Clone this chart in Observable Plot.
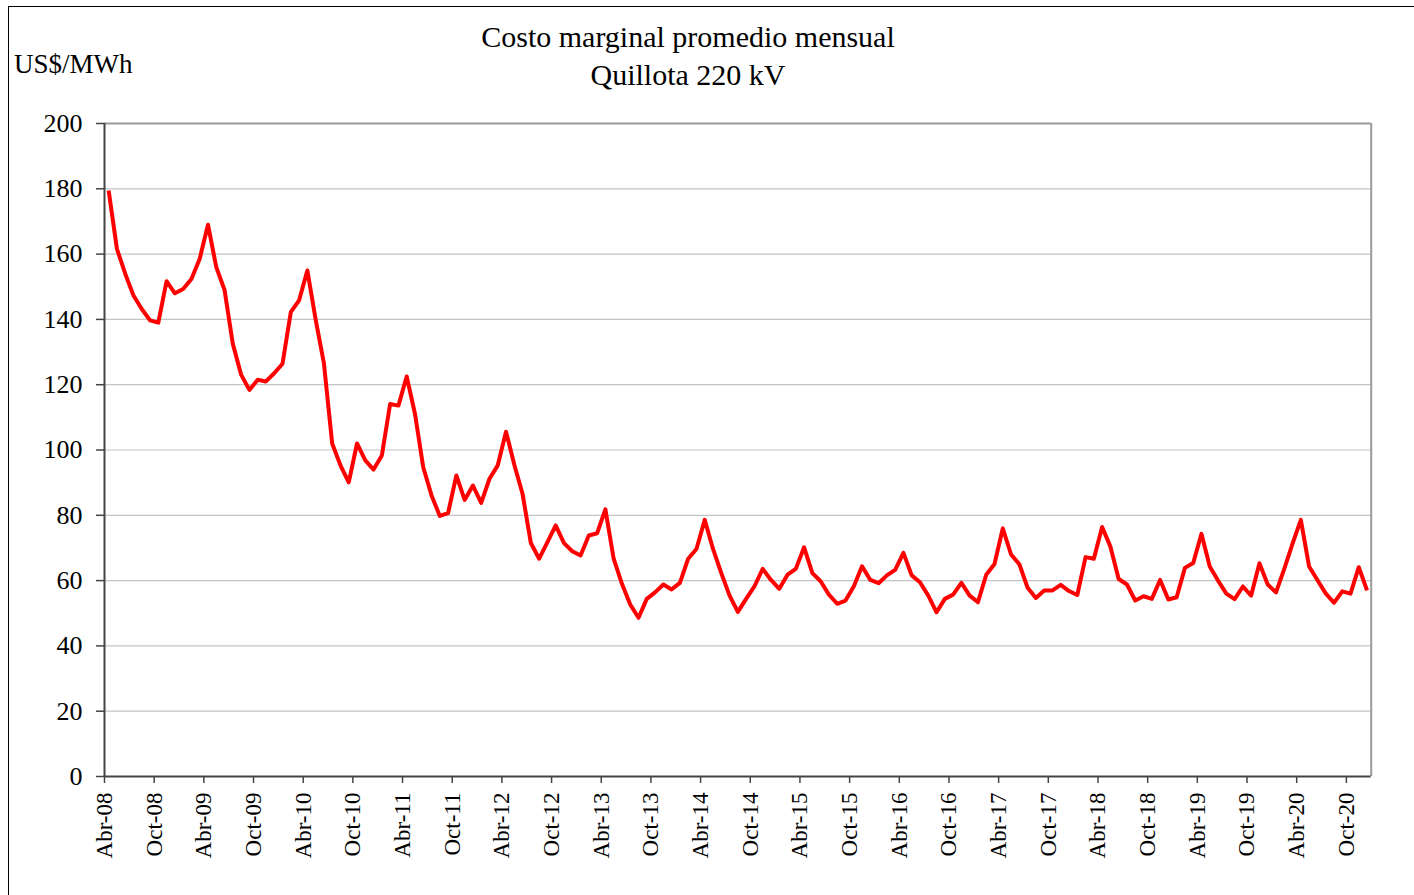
<!DOCTYPE html>
<html>
<head>
<meta charset="utf-8">
<script src="https://cdn.jsdelivr.net/npm/d3@7"></script>
<script src="https://cdn.jsdelivr.net/npm/@observablehq/plot@0.6"></script>
<style>
  html, body { margin: 0; padding: 0; background: #fff; overflow: hidden; }
  #wrap { position: relative; width: 1414px; height: 895px; font-family: "Liberation Serif", "Times New Roman", serif; color: #000; }
  #outer { position: absolute; left: 8px; top: 6px; width: 1500px; height: 1000px; border-left: 1.5px solid #000; border-top: 1.5px solid #000; }
  .title { position: absolute; left: 0; width: 1376px; text-align: center; font-size: 30px; line-height: 30px; white-space: nowrap; }
  #unit { position: absolute; left: 14px; top: 51px; font-size: 27px; line-height: 27px; white-space: nowrap; }
  #chart { position: absolute; left: 0; top: 0; }
</style>
</head>
<body>
<div id="wrap">
  <div id="outer"></div>
  <div id="chart"></div>
  <div class="title" style="top:22px">Costo marginal promedio mensual</div>
  <div class="title" style="top:60px">Quillota 220 kV</div>
  <div id="unit">US$/MWh</div>
</div>
<script>
// Monthly average marginal cost, Apr-08 .. Dec-20 (US$/MWh)
const values = [
  179.5, 161.6, 154.0, 147.3, 143.2, 139.7, 139.0, 151.7, 148.0, 149.3, 152.4, 158.6,
  169.0, 156.0, 149.0, 132.5, 123.1, 118.4, 121.5, 121.0, 123.5, 126.4, 142.2, 145.8,
  155.0, 140.0, 126.6, 102.0, 95.3, 90.1, 102.0, 96.8, 94.0, 98.3, 114.1, 113.6,
  122.5, 111.1, 94.7, 86.1, 79.8, 80.7, 92.2, 84.7, 89.1, 83.8, 91.2, 95.3,
  105.6, 95.5, 86.5, 71.5, 66.7, 71.8, 76.9, 71.5, 69.0, 67.7, 73.8, 74.5,
  81.8, 66.7, 59.0, 52.7, 48.6, 54.4, 56.4, 58.8, 57.3, 59.3, 66.7, 69.7,
  78.6, 69.7, 62.3, 55.4, 50.4, 54.4, 58.2, 63.6, 60.2, 57.5, 61.8, 63.6,
  70.2, 62.3, 59.8, 55.7, 52.9, 53.9, 58.2, 64.4, 60.2, 59.2, 61.6, 63.3,
  68.5, 61.6, 59.5, 55.4, 50.3, 54.4, 55.7, 59.3, 55.4, 53.4, 61.8, 65.1,
  76.0, 68.0, 65.0, 57.8, 54.7, 57.0, 57.0, 58.7, 56.8, 55.6, 67.2, 66.7,
  76.4, 70.4, 60.5, 58.8, 53.9, 55.2, 54.4, 60.2, 54.2, 54.9, 63.9, 65.4,
  74.3, 64.3, 60.0, 56.0, 54.3, 58.2, 55.4, 65.3, 58.8, 56.4, 63.6, 71.3,
  78.6, 64.3, 60.2, 56.1, 53.2, 56.7, 56.0, 64.1, 57.0
];

const tickLabels = [
  "Abr-08","Oct-08","Abr-09","Oct-09","Abr-10","Oct-10","Abr-11","Oct-11",
  "Abr-12","Oct-12","Abr-13","Oct-13","Abr-14","Oct-14","Abr-15","Oct-15",
  "Abr-16","Oct-16","Abr-17","Oct-17","Abr-18","Oct-18","Abr-19","Oct-19",
  "Abr-20","Oct-20"
];

const yTicks = [0, 20, 40, 60, 80, 100, 120, 140, 160, 180, 200];

// Category positions: month index; ticks at category boundaries every 6 months
const data = values.map((v, i) => ({idx: i, v}));
const nCats = values.length;
const xTicks = tickLabels.map((_, k) => k * 6);

const chart = Plot.plot({
  width: 1414,
  height: 895,
  marginLeft: 104,
  marginRight: 43.3,
  marginTop: 123,
  marginBottom: 119,
  style: {
    fontFamily: '"Liberation Serif", "Times New Roman", serif',
    color: "#000",
    background: "transparent",
    overflow: "visible"
  },
  x: {type: "linear", domain: [0, nCats], axis: null},
  y: {domain: [0, 200], axis: null},
  marks: [
    Plot.gridY(yTicks.filter(t => t > 0 && t < 200), {stroke: "#c4c4c4", strokeOpacity: 1, strokeWidth: 1.2}),
    Plot.ruleY([200], {stroke: "#9a9a9a", strokeWidth: 2}),
    Plot.ruleX([nCats], {stroke: "#9a9a9a", strokeWidth: 2}),
    Plot.line(data, {
      x: d => d.idx + 0.5,
      y: "v",
      stroke: "#ff0000",
      strokeWidth: 4,
      strokeLinejoin: "round",
      strokeLinecap: "butt"
    }),
    Plot.ruleX([0], {stroke: "#444", strokeWidth: 2}),
    Plot.ruleY([0], {stroke: "#444", strokeWidth: 2}),
    Plot.axisY({
      ticks: yTicks,
      tickSize: 8,
      tickPadding: 14,
      fontSize: 26,
      stroke: "#444",
      strokeWidth: 1.5,
      label: null
    }),
    Plot.axisX({
      ticks: xTicks,
      tickFormat: t => tickLabels[t / 6],
      tickSize: 7,
      tickPadding: 9,
      tickRotate: -90,
      fontSize: 23,
      stroke: "#444",
      strokeWidth: 1.5,
      label: null
    })
  ]
});

document.getElementById("chart").appendChild(chart);
</script>
</body>
</html>
